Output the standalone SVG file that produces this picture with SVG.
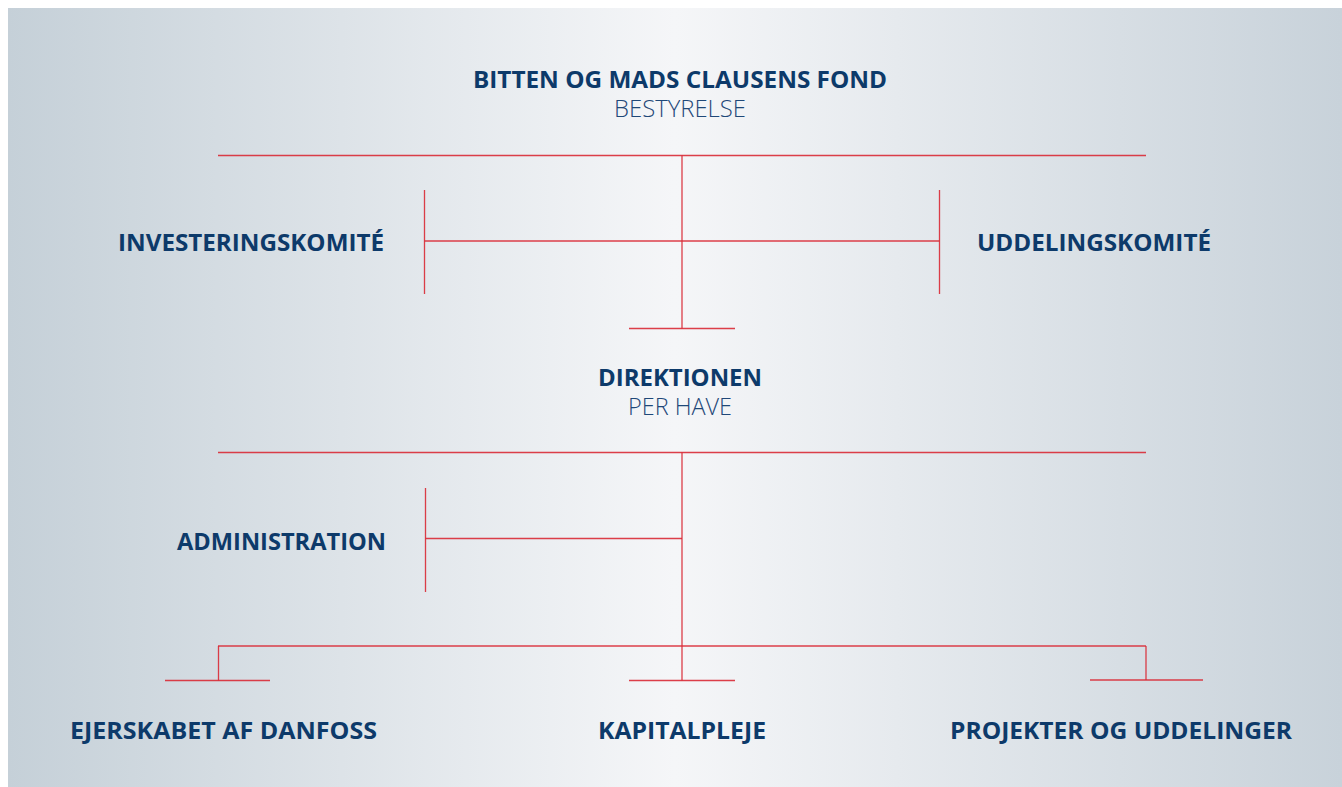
<svg xmlns="http://www.w3.org/2000/svg" width="1342" height="787" viewBox="0 0 1342 787">
<defs>
<linearGradient id="bg" x1="0" y1="0" x2="1" y2="0">
<stop offset="0" stop-color="#c5d0d8"/>
<stop offset="0.5" stop-color="#f5f6f8"/>
<stop offset="1" stop-color="#c8d2da"/>
</linearGradient>
</defs>
<style>
.t{font-family:"Open Sans","Liberation Sans",sans-serif;font-size:24px;font-weight:700;fill:#0d3a6a}
.s{font-family:"Open Sans","Liberation Sans",sans-serif;font-size:23px;font-weight:300;fill:#1f4878}
.c line{stroke:#d92a35;stroke-width:1.3;stroke-opacity:0.9}
</style>
<rect x="8" y="8" width="1334" height="779" fill="url(#bg)"/>
<g id="connectors" class="c">
<line x1="218" y1="155.5" x2="1146" y2="155.5"/>
<line x1="682" y1="155.5" x2="682" y2="328.5"/>
<line x1="629" y1="328.5" x2="735" y2="328.5"/>
<line x1="424.5" y1="190" x2="424.5" y2="294"/>
<line x1="939.5" y1="190" x2="939.5" y2="294"/>
<line x1="424.5" y1="241" x2="939.5" y2="241"/>
<line x1="218" y1="452.5" x2="1146" y2="452.5"/>
<line x1="682" y1="452.5" x2="682" y2="680.5"/>
<line x1="425.5" y1="488" x2="425.5" y2="592"/>
<line x1="425.5" y1="538.5" x2="682" y2="538.5"/>
<line x1="218" y1="646" x2="1146" y2="646"/>
<line x1="218.5" y1="646" x2="218.5" y2="680.5"/>
<line x1="1146" y1="646" x2="1146" y2="680"/>
<line x1="165" y1="680.5" x2="270" y2="680.5"/>
<line x1="629" y1="680.5" x2="735" y2="680.5"/>
<line x1="1090" y1="680" x2="1203" y2="680"/>
</g>
<g id="fond">
<text class="t" x="473" y="88" textLength="414" lengthAdjust="spacingAndGlyphs">BITTEN OG MADS CLAUSENS FOND</text>
<text class="s" x="614" y="117" textLength="132" lengthAdjust="spacingAndGlyphs">BESTYRELSE</text>
</g>
<g id="investeringskomite">
<text class="t" x="118" y="251" textLength="266" lengthAdjust="spacingAndGlyphs">INVESTERINGSKOMITÉ</text>
</g>
<g id="uddelingskomite">
<text class="t" x="977" y="251" textLength="234" lengthAdjust="spacingAndGlyphs">UDDELINGSKOMITÉ</text>
</g>
<g id="direktionen">
<text class="t" x="598" y="386" textLength="164" lengthAdjust="spacingAndGlyphs">DIREKTIONEN</text>
<text class="s" x="628" y="415" textLength="104" lengthAdjust="spacingAndGlyphs">PER HAVE</text>
</g>
<g id="administration">
<text class="t" x="177" y="550" textLength="209" lengthAdjust="spacingAndGlyphs">ADMINISTRATION</text>
</g>
<g id="ejerskabet">
<text class="t" x="70" y="739" textLength="307" lengthAdjust="spacingAndGlyphs">EJERSKABET AF DANFOSS</text>
</g>
<g id="kapitalpleje">
<text class="t" x="598" y="739" textLength="168" lengthAdjust="spacingAndGlyphs">KAPITALPLEJE</text>
</g>
<g id="projekter">
<text class="t" x="950" y="739" textLength="342" lengthAdjust="spacingAndGlyphs">PROJEKTER OG UDDELINGER</text>
</g>
</svg>
